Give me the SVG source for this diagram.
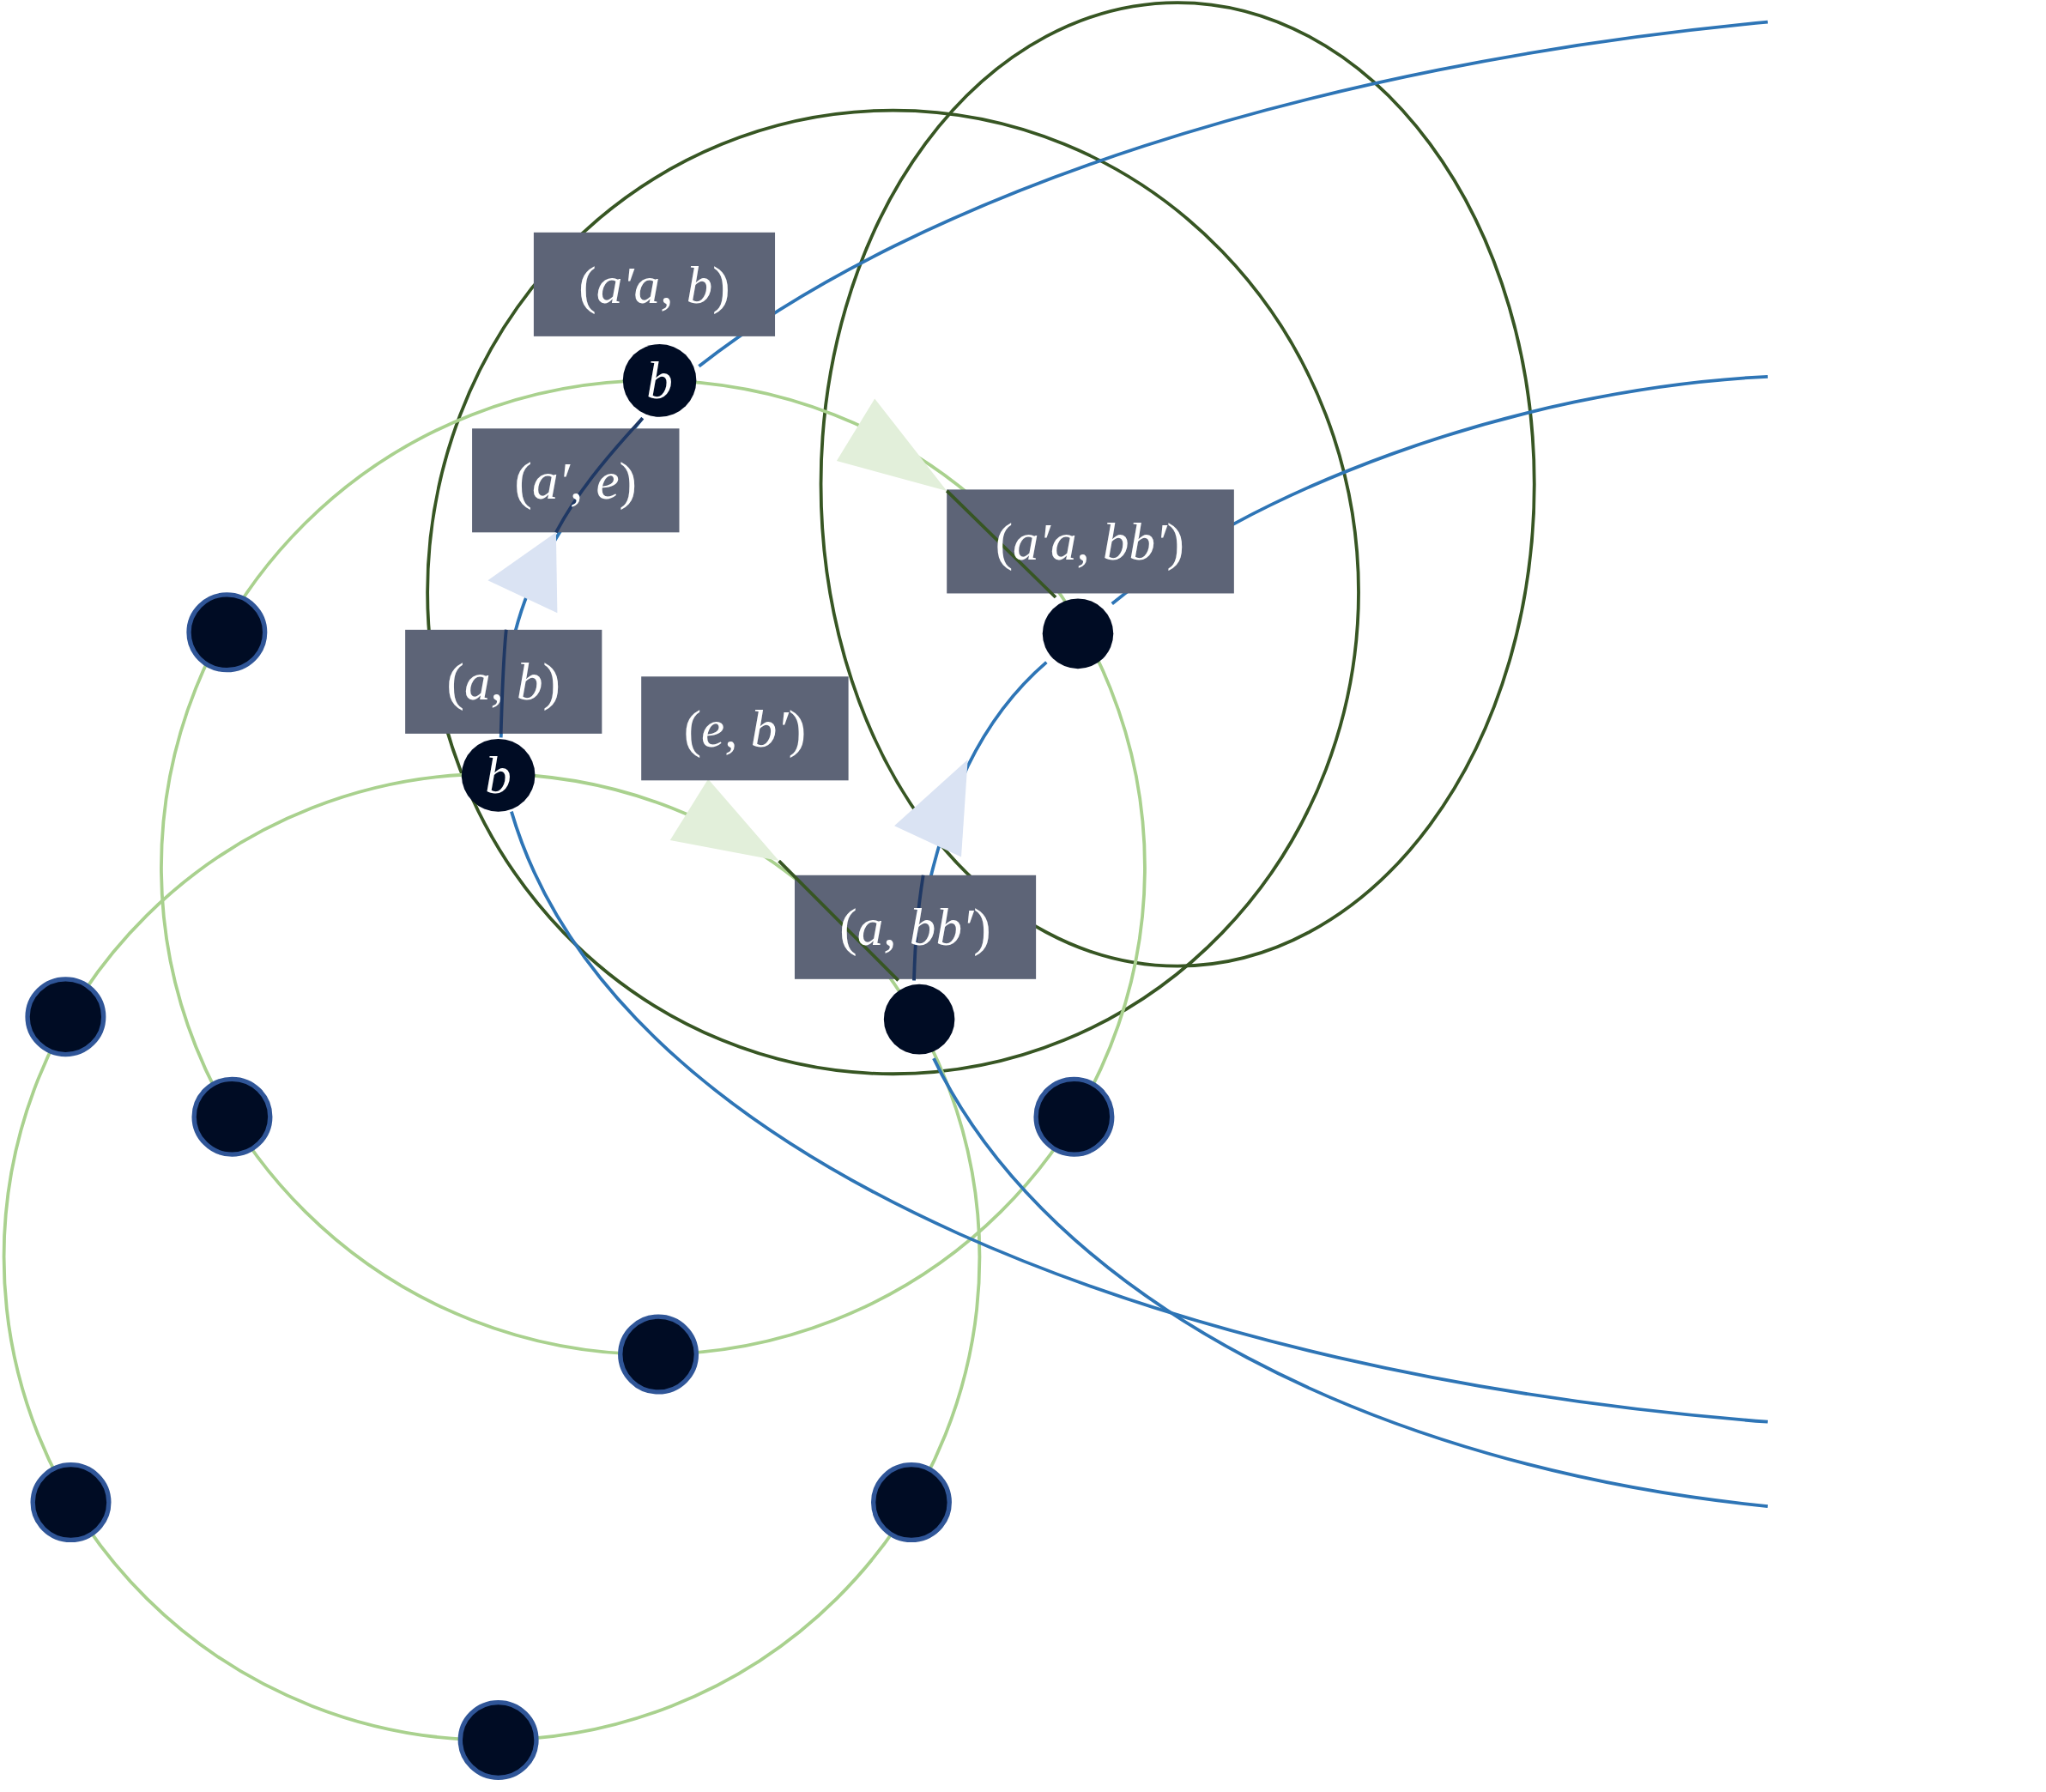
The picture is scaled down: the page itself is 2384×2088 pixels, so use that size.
<svg xmlns="http://www.w3.org/2000/svg" width="2384" height="2088" viewBox="0 0 2384 2088">
<style>
.dg{fill:none;stroke:#375623;stroke-width:2.5}
.lg{fill:none;stroke:#a9d18e;stroke-width:2.5}
.bl{fill:none;stroke:#2e75b6;stroke-width:2.5}
.nb{fill:#000c24;stroke:#2f5597;stroke-width:3.5}
.nd{fill:#000c24}
.box{fill:#5d6477}
.t{font-family:"Liberation Serif",serif;font-size:40px;fill:#fff;text-anchor:middle}
.i{font-style:italic}
.ga{fill:#e2efda}
.ba{fill:#dae3f3}
</style>
<rect width="2384" height="2088" fill="#fff"/>
<g transform="scale(1.528,1.513)">
<g id="connectors">
<ellipse class="dg" cx="681" cy="456" rx="355" ry="371"/>
<ellipse class="dg" cx="898" cy="373" rx="272" ry="371"/>
<circle class="lg" cx="498" cy="668" r="375"/>
<circle class="lg" cx="375" cy="968" r="372"/>
<path class="bl" d="M533,282 C700,150 1000,50 1348,17"/>
<path class="bl" d="M848,465 C950,380 1150,300 1348,290"/>
<path class="bl" d="M390,625 C470,900 900,1060 1348,1095"/>
<path class="bl" d="M712,815 C800,1000 1050,1130 1348,1160"/>
<path class="bl" d="M382,568 C384,510 395,470 410,440 C430,400 460,360 490,322"/>
<path class="bl" d="M697,755 C700,700 720,630 738,590 C755,555 775,530 798,510"/>
<polygon class="ga" points="638,355 667,307 722,378"/>
<polygon class="ga" points="511,647 540,600 594,663"/>
<polygon class="ba" points="372,447 424,410 425,472"/>
<polygon class="ba" points="682,636 738,585 733,660"/>
</g>
<g id="labels">
<rect class="box" x="407" y="179" width="184" height="80"/>
<rect class="box" x="360" y="330" width="158" height="80"/>
<rect class="box" x="722" y="377" width="219" height="80"/>
<rect class="box" x="309" y="485" width="150" height="80"/>
<rect class="box" x="489" y="521" width="158" height="80"/>
<rect class="box" x="606" y="674" width="184" height="80"/>
<path d="M722,378 L805,460 M594,663 L685,755" fill="none" stroke="#375623" stroke-width="2.5"/>
<path d="M382,565 C383,530 384,505 386,485 M424,410 C440,380 460,355 490,322 M697,755 C698,720 700,700 704,674" fill="none" stroke="#1f3864" stroke-width="2.5"/>
<text class="t" x="499" y="233">(<tspan class="i">a′a</tspan>, <tspan class="i">b</tspan>)</text>
<text class="t" x="439" y="384">(<tspan class="i">a′</tspan>, <tspan class="i">e</tspan>)</text>
<text class="t" x="831" y="431">(<tspan class="i">a′a</tspan>, <tspan class="i">bb′</tspan>)</text>
<text class="t" x="384" y="539">(<tspan class="i">a</tspan>, <tspan class="i">b</tspan>)</text>
<text class="t" x="568" y="575">(<tspan class="i">e</tspan>, <tspan class="i">b′</tspan>)</text>
<text class="t" x="698" y="728">(<tspan class="i">a</tspan>, <tspan class="i">bb′</tspan>)</text>
</g>
<g id="n1"><circle class="nd" cx="503" cy="293" r="28"/><text class="t i" x="503" y="307">b</text></g>
<g id="n2"><circle class="nd" cx="380" cy="597" r="28"/><text class="t i" x="380" y="611">b</text></g>
<g id="n3"><circle class="nd" cx="822" cy="488" r="27"/></g>
<g id="n4"><circle class="nd" cx="701" cy="785" r="27"/></g>
<g id="n5"><circle class="nb" cx="173" cy="487" r="29"/></g>
<g id="n6"><circle class="nb" cx="177" cy="860" r="29"/></g>
<g id="n7"><circle class="nb" cx="502" cy="1043" r="29"/></g>
<g id="n8"><circle class="nb" cx="819" cy="860" r="29"/></g>
<g id="n9"><circle class="nb" cx="50" cy="783" r="29"/></g>
<g id="n10"><circle class="nb" cx="54" cy="1157" r="29"/></g>
<g id="n11"><circle class="nb" cx="380" cy="1340" r="29"/></g>
<g id="n12"><circle class="nb" cx="695" cy="1157" r="29"/></g>
</g>
</svg>
